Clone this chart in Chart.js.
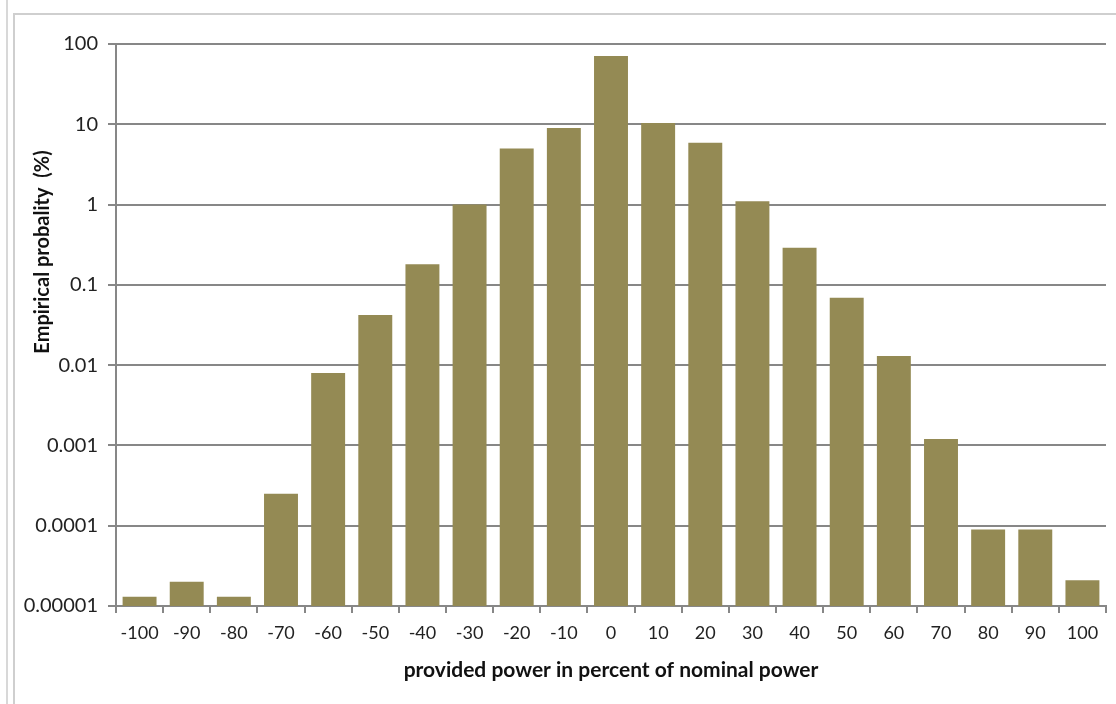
<!DOCTYPE html>
<html>
<head>
<meta charset="utf-8">
<script src="https://cdn.jsdelivr.net/npm/chart.js@4/dist/chart.umd.min.js"></script>
<style>
  html, body { margin: 0; padding: 0; background: #fff; }
  #wrap { position: relative; width: 1116px; height: 704px; overflow: hidden; }
  #edge { position: absolute; left: 6px; top: 0; height: 704px; border-left: 2px solid #d8d8d8; }
  #frame { position: absolute; left: 13px; top: 13px; width: 1110px; height: 700px; border-left: 2px solid #cfcfcf; border-top: 2px solid #cfcfcf; }
  canvas { position: absolute; left: 0; top: 0; }
</style>
</head>
<body>
<div id="wrap">
  <div id="edge"></div>
  <div id="frame"></div>
  <canvas id="probChart" width="1116" height="704"></canvas>
</div>
<script>
// provided power in percent of nominal power
const categories = ['-100', '-90', '-80', '-70', '-60', '-50', '-40', '-30', '-20', '-10', '0',
                    '10', '20', '30', '40', '50', '60', '70', '80', '90', '100'];
// empirical probability in %
const probability = [0.000013, 0.00002, 0.000013, 0.00025, 0.008, 0.042, 0.18, 1.0, 5.0, 9.0, 71,
                     10.4, 5.9, 1.1, 0.29, 0.069, 0.013, 0.0012, 0.00009, 0.00009, 0.000021];
const yTickValues = [0.00001, 0.0001, 0.001, 0.01, 0.1, 1, 10, 100];
const yTickLabels = ['0.00001', '0.0001', '0.001', '0.01', '0.1', '1', '10', '100'];

const gridColor = '#878787';
const barColor = '#948a54';

// y axis title drawn a bit above the middle, like the original
const yTitlePlugin = {
  id: 'yTitle',
  afterDraw(chart) {
    const ctx = chart.ctx;
    ctx.save();
    ctx.translate(43, 252);
    ctx.rotate(-Math.PI / 2);
    ctx.font = 'bold 20px Lato';
    ctx.fillStyle = '#111';
    ctx.textAlign = 'center';
    ctx.textBaseline = 'middle';
    ctx.fillText('Empirical probality  (%)', 0, 0);
    ctx.restore();
  }
};

const ctx = document.getElementById('probChart').getContext('2d');
const probChart = new Chart(ctx, {
  type: 'bar',
  data: {
    labels: categories,
    datasets: [{
      label: 'Empirical probability',
      data: probability,
      backgroundColor: barColor,
      borderWidth: 0,
      categoryPercentage: 0.8,
      barPercentage: 0.9
    }]
  },
  options: {
    responsive: false,
    animation: false,
    layout: { padding: { left: 0, right: 10, top: 44, bottom: 0 } },
    plugins: {
      legend: { display: false },
      tooltip: { enabled: false }
    },
    scales: {
      x: {
        offset: true,
        afterFit(scale) { scale.height = 98; },
        grid: {
          offset: true,
          drawOnChartArea: false,
          drawTicks: true,
          tickLength: 7,
          color: gridColor,
          lineWidth: 2
        },
        border: { display: true, color: gridColor, width: 2 },
        ticks: {
          color: '#222',
          padding: 9,
          maxRotation: 0,
          font: { family: 'Lato', size: 18 }
        },
        title: {
          display: true,
          text: 'provided power in percent of nominal power',
          color: '#111',
          font: { family: 'Lato', size: 21, weight: 'bold' },
          padding: { top: 0, bottom: 21 }
        }
      },
      y: {
        type: 'logarithmic',
        min: 0.00001,
        max: 100,
        afterFit(scale) { scale.width = 116; },
        afterBuildTicks(scale) {
          scale.ticks = yTickValues.map(v => ({ value: v, major: true }));
        },
        grid: {
          color: gridColor,
          lineWidth: 2,
          tickLength: 8
        },
        border: { display: true, color: gridColor, width: 2 },
        ticks: {
          color: '#222',
          padding: 10,
          font: { family: 'Lato', size: 20 },
          callback: (value, index) => yTickLabels[index]
        }
      }
    }
  },
  plugins: [yTitlePlugin]
});
</script>
</body>
</html>
